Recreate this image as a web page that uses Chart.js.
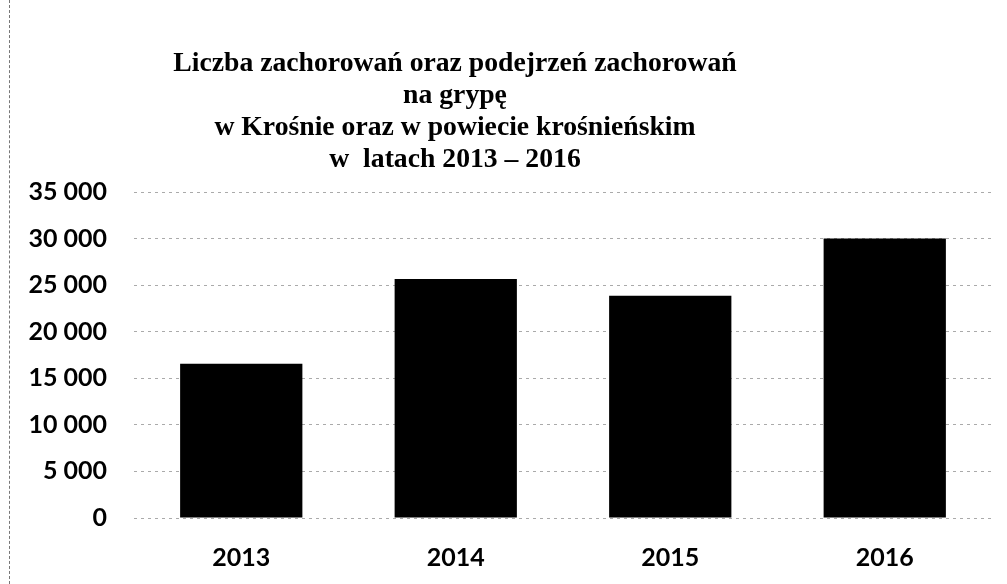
<!DOCTYPE html>
<html lang="pl">
<head>
<meta charset="utf-8">
<script src="https://cdn.jsdelivr.net/npm/chart.js@4/dist/chart.umd.min.js"></script>
<style>
  html, body { margin: 0; padding: 0; background: #fff; }
  #wrap { position: relative; width: 1007px; height: 584px; }
  #edge { position: absolute; left: 9px; top: 0; bottom: 0; border-left: 1px dashed #777; }
  #title {
    position: absolute; left: 0; width: 910px; top: 46px;
    text-align: center; font-family: "Liberation Serif", serif; font-weight: bold;
    font-size: 27.7px; line-height: 32px; color: #000;
  }
  canvas { position: absolute; left: 0; top: 0; }
</style>
</head>
<body>
<div id="wrap">
  <canvas id="chart" width="1007" height="584"></canvas>
  <div id="edge"></div>
  <div id="title">Liczba zachorowań oraz podejrzeń zachorowań<br>na grypę<br>w Krośnie oraz w powiecie krośnieńskim<br>w&nbsp; latach 2013 – 2016</div>
</div>
<script>
// dane z wykresu
const years = ["2013", "2014", "2015", "2016"];
const cases = [16550, 25650, 23850, 30000];
const yMax = 35000;
const yStep = 5000;

// "35 000" – spacja jako separator tysięcy
function fmt(v) {
  return String(v).replace(/\B(?=(\d{3})+(?!\d))/g, " ");
}

const tickFont = { family: "Lato", weight: "bold", size: 25 };

new Chart(document.getElementById("chart").getContext("2d"), {
  type: "bar",
  data: {
    labels: years,
    datasets: [{
      data: cases,
      backgroundColor: "#000",
      borderWidth: 0,
      barPercentage: 0.57,
      categoryPercentage: 1
    }]
  },
  options: {
    responsive: false,
    animation: false,
    layout: { padding: { top: 192, right: 15, bottom: 0, left: 0 } },
    plugins: { legend: { display: false }, title: { display: false }, tooltip: { enabled: false } },
    scales: {
      x: {
        grid: { display: false },
        border: { display: false },
        ticks: { color: "#000", font: tickFont, padding: 17 },
        afterFit: s => { s.height = 66; }
      },
      y: {
        min: 0,
        max: yMax,
        grid: { color: "#aaa", lineWidth: 1, drawTicks: false },
        border: { display: false, dash: [3, 4] },
        ticks: { stepSize: yStep, color: "#000", font: tickFont, padding: 27, callback: v => fmt(v) },
        afterFit: s => { s.width = 134; }
      }
    }
  }
});
</script>
</body>
</html>
